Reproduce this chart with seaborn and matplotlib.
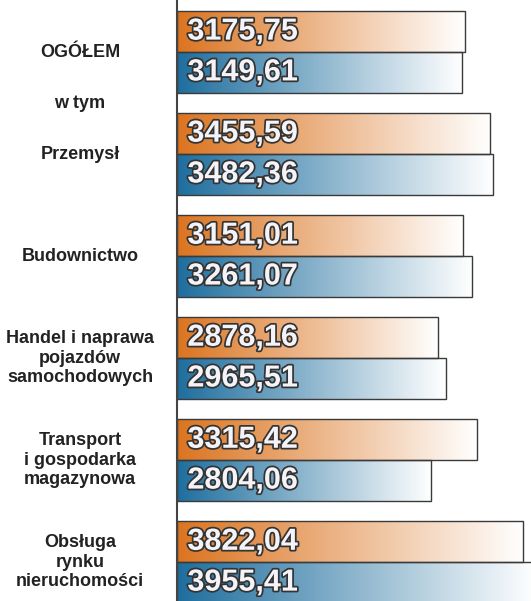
import numpy as np
import pandas as pd
import seaborn as sns
import matplotlib
matplotlib.use("Agg")
import matplotlib.pyplot as plt
import matplotlib.patheffects as pe
from matplotlib.colors import to_rgb
from matplotlib.transforms import blended_transform_factory

# data
categories = [
    "OGÓŁEM",
    "Przemysł",
    "Budownictwo",
    "Handel i naprawa\npojazdów\nsamochodowych",
    "Transport\ni gospodarka\nmagazynowa",
    "Obsługa\nrynku\nnieruchomości",
]
series_names = ["okres 1", "okres 2"]
values_1 = [3175.75, 3455.59, 3151.01, 2878.16, 3315.42, 3822.04]
values_2 = [3149.61, 3482.36, 3261.07, 2965.51, 2804.06, 3955.41]
extra_label = "w tym"

colors = ["#DB7420", "#1E6E9E"]

df = pd.DataFrame({
    "category": categories * 2,
    "series": [series_names[0]] * len(categories) + [series_names[1]] * len(categories),
    "value": values_1 + values_2,
})

sns.set_style("white")
plt.rcParams["font.family"] = ["Liberation Sans", "DejaVu Sans"]

fig = plt.figure(figsize=(5.31, 6.01), dpi=100)
ax = fig.add_axes([177 / 531, 0, 1 - 177 / 531, 1])

sns.barplot(
    data=df, x="value", y="category", hue="series", hue_order=series_names,
    palette=colors, saturation=1, orient="h", dodge=True, legend=False, ax=ax,
    width=0.8, edgecolor="#3a3a3a", linewidth=1.0,
)

# gradient fills: base colour on the left fading to white at the bar end
for patch in list(ax.patches):
    x0, y0 = patch.get_x(), patch.get_y()
    w, h = patch.get_width(), patch.get_height()
    if w <= 0:
        continue
    base = np.array(to_rgb(patch.get_facecolor()))
    t = np.linspace(0, 1, 256)[None, :, None]
    grad = base * (1 - t) + np.ones(3) * t
    im = ax.imshow(grad, extent=(x0, x0 + w, y0 + h, y0), aspect="auto",
                   zorder=patch.get_zorder() - 0.1, interpolation="bilinear")
    im.set_clip_path(patch)
    patch.set_facecolor("none")

    label = f"{w:.2f}".replace(".", ",")
    ax.annotate(label, xy=(x0, y0 + h / 2), xytext=(7.5, 0), textcoords="offset points",
                ha="left", va="center", fontsize=22, fontweight="bold", color="#F4F4F8",
                zorder=5,
                path_effects=[pe.Stroke(linewidth=2.5, foreground="#333333"), pe.Normal()])

ax.set_xlim(0, 3907)
ax.set_ylim(5.38, -0.51)

# category labels centred left of the axis
trans = blended_transform_factory(fig.transFigure, ax.transData)
for i, cat in enumerate(categories):
    ax.text(80 / 531, i, cat, transform=trans, ha="center", va="center",
            fontsize=13, fontweight="bold", color="#222222", linespacing=1.2)
ax.text(80 / 531, 0.5, extra_label, transform=trans, ha="center", va="center",
        fontsize=13, fontweight="bold", color="#222222")

ax.set_xlabel("")
ax.set_ylabel("")
ax.set_xticks([])
ax.set_yticks([])
for side in ["top", "right", "bottom"]:
    ax.spines[side].set_visible(False)
ax.spines["left"].set_color("#444444")
ax.spines["left"].set_linewidth(1.5)

fig.savefig("out.png", dpi=100)
